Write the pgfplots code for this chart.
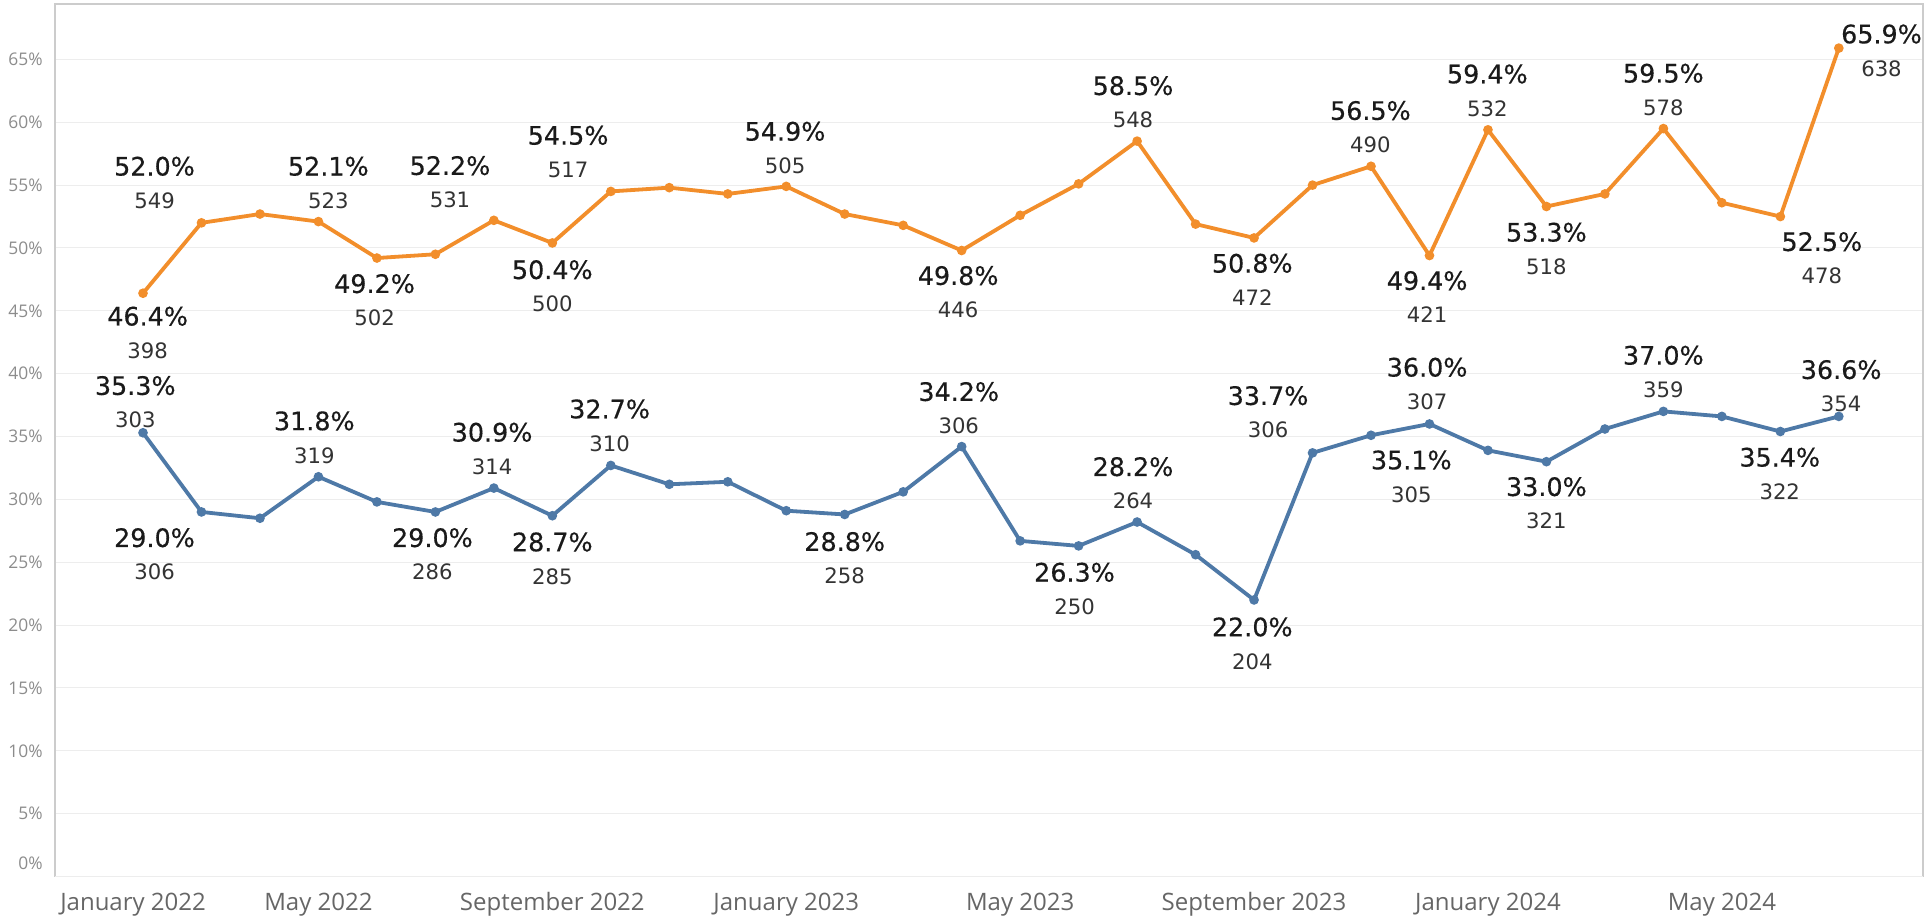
\documentclass[border=0pt]{standalone}
\usepackage{fontspec}
\setmainfont{Open Sans}
\newfontfamily\dv{DejaVu Sans}
\newfontfamily\dvp[FakeBold=0.4]{DejaVu Sans}
\usepackage{pgfplots}
\pgfplotsset{compat=1.18}
\usetikzlibrary{calc}

\definecolor{tabOrange}{HTML}{F28E2B}
\definecolor{tabBlue}{HTML}{4E79A7}
\definecolor{pctText}{HTML}{1A1A1A}
\definecolor{cntText}{HTML}{333333}

% month index: 0 = January 2022
\pgfplotstableread{
m  orange blue
1  46.4  35.3
2  52.0  29.0
3  52.7  28.5
4  52.1  31.8
5  49.2  29.8
6  49.5  29.0
7  52.2  30.9
8  50.4  28.7
9  54.5  32.7
10 54.8  31.2
11 54.3  31.4
12 54.9  29.1
13 52.7  28.8
14 51.8  30.6
15 49.8  34.2
16 52.6  26.7
17 55.1  26.3
18 58.5  28.2
19 51.9  25.6
20 50.8  22.0
21 55.0  33.7
22 56.5  35.1
23 49.4  36.0
24 59.4  33.9
25 53.3  33.0
26 54.3  35.6
27 59.5  37.0
28 53.6  36.6
29 52.5  35.4
30 65.9  36.6
}\rates

% percentage label with the count underneath
\newcommand{\lab}[4]{%
  \node[font=\dvp\fontsize{12.7}{14}\selectfont, text=pctText, inner sep=0pt] at (axis cs:#1,#2) {#3\%};
  \node[font=\dv\fontsize{10.6}{12}\selectfont, text=cntText, inner sep=0pt, yshift=-17.2pt] at (axis cs:#1,#2) {#4};
}

\begin{document}
\begin{tikzpicture}
\begin{axis}[
    scale only axis,
    width=934pt, height=436.25pt,
    xmin=-0.505, xmax=31.44,
    ymin=0, ymax=69.41,
    axis line style={draw=black!20, line width=0.7pt},
    ytick={5,10,...,65},
    extra y ticks={0},
    extra y tick style={yticklabel style={yshift=6.5pt}},
    yticklabel={\pgfmathprintnumber{\tick}\%},
    yticklabel style={font=\fontsize{8.7}{10}\selectfont, text=black!45, anchor=east, inner sep=0pt, xshift=-6pt},
    /pgf/number format/assume math mode=true,
    ymajorgrids,
    grid style={draw=black!7, line width=0.5pt},
    xtick={0.83,4,8,12,16,20,24,28},
    xticklabels={January 2022, May 2022, September 2022, January 2023, May 2023, September 2023, January 2024, May 2024},
    xticklabel style={font=\fontsize{12}{14}\selectfont, text=black!60, anchor=base, inner sep=0pt, yshift=-16.75pt},
    major tick length=0pt,
    clip=false,
]
\addplot[tabOrange, line width=1.9pt, mark=*, mark size=1.4pt] table[x=m, y=orange] {\rates};
\addplot[tabBlue, line width=1.9pt, mark=*, mark size=1.4pt] table[x=m, y=blue] {\rates};

% orange series labels
\lab{1.197}{56.50}{52.0}{549}
\lab{1.079}{44.57}{46.4}{398}
\lab{4.17}{56.50}{52.1}{523}
\lab{6.25}{56.55}{52.2}{531}
\lab{4.96}{47.16}{49.2}{502}
\lab{8.27}{58.96}{54.5}{517}
\lab{8.0}{48.27}{50.4}{500}
\lab{11.98}{59.28}{54.9}{505}
\lab{14.94}{47.80}{49.8}{446}
\lab{17.93}{62.91}{58.5}{548}
\lab{19.97}{48.78}{50.8}{472}
\lab{21.99}{60.93}{56.5}{490}
\lab{23.99}{63.84}{59.4}{532}
\lab{22.96}{47.40}{49.4}{421}
\lab{25.0}{51.25}{53.3}{518}
\lab{27.0}{63.90}{59.5}{578}
\lab{29.71}{50.50}{52.5}{478}
\lab{30.73}{67.02}{65.9}{638}

% blue series labels
\lab{0.868}{39.05}{35.3}{303}
\lab{1.197}{26.95}{29.0}{306}
\lab{3.93}{36.24}{31.8}{319}
\lab{6.97}{35.34}{30.9}{314}
\lab{5.95}{26.95}{29.0}{286}
\lab{8.0}{26.61}{28.7}{285}
\lab{8.98}{37.19}{32.7}{310}
\lab{13.0}{26.64}{28.8}{258}
\lab{14.95}{38.57}{34.2}{306}
\lab{16.93}{24.20}{26.3}{250}
\lab{17.93}{32.60}{28.2}{264}
\lab{19.97}{19.85}{22.0}{204}
\lab{20.24}{38.25}{33.7}{306}
\lab{22.96}{40.51}{36.0}{307}
\lab{22.69}{33.13}{35.1}{305}
\lab{25.0}{31.01}{33.0}{321}
\lab{27.0}{41.46}{37.0}{359}
\lab{28.99}{33.35}{35.4}{322}
\lab{30.04}{40.32}{36.6}{354}
\end{axis}
\path ($(current axis.south west)+(-27.5pt,-21.75pt)$) rectangle ($(current axis.north east)+(1.5pt,2pt)$);
\end{tikzpicture}
\end{document}
